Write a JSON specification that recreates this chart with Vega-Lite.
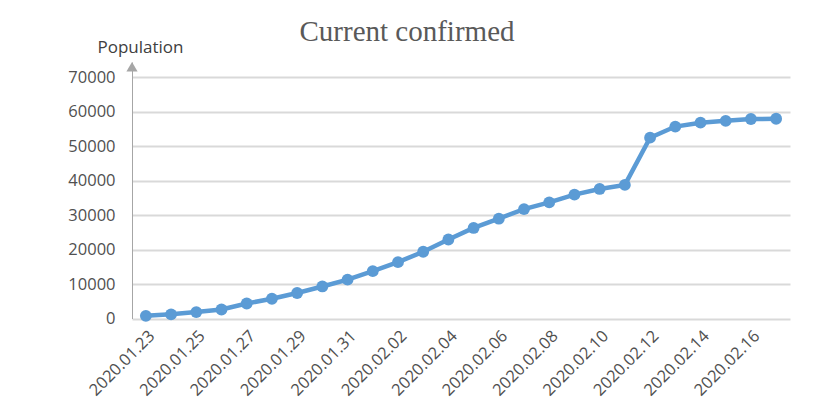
{
  "$schema": "https://vega.github.io/schema/vega-lite/v6.json",
  "autosize": {"type": "none"},
  "width": 658,
  "height": 256.5,
  "padding": {"left": 132, "top": 62, "right": 25, "bottom": 91.5},
  "background": "white",
  "title": {
    "text": "Current confirmed",
    "font": "Liberation Serif",
    "fontSize": 29,
    "fontWeight": "normal",
    "color": "#595959",
    "anchor": "middle",
    "frame": "group",
    "dx": -54,
    "baseline": "alphabetic",
    "offset": -32
  },
  "config": {
    "view": {"stroke": null},
    "axis": {"labelFont": "Open Sans", "titleFont": "Open Sans"}
  },
  "datasets": {
    "cases": [
      {"date": "2020.01.23", "value": 771},
      {"date": "2020.01.24", "value": 1208},
      {"date": "2020.01.25", "value": 1870},
      {"date": "2020.01.26", "value": 2613},
      {"date": "2020.01.27", "value": 4349},
      {"date": "2020.01.28", "value": 5739},
      {"date": "2020.01.29", "value": 7417},
      {"date": "2020.01.30", "value": 9308},
      {"date": "2020.01.31", "value": 11289},
      {"date": "2020.02.01", "value": 13748},
      {"date": "2020.02.02", "value": 16369},
      {"date": "2020.02.03", "value": 19381},
      {"date": "2020.02.04", "value": 22942},
      {"date": "2020.02.05", "value": 26302},
      {"date": "2020.02.06", "value": 28985},
      {"date": "2020.02.07", "value": 31774},
      {"date": "2020.02.08", "value": 33738},
      {"date": "2020.02.09", "value": 35982},
      {"date": "2020.02.10", "value": 37626},
      {"date": "2020.02.11", "value": 38800},
      {"date": "2020.02.12", "value": 52526},
      {"date": "2020.02.13", "value": 55748},
      {"date": "2020.02.14", "value": 56873},
      {"date": "2020.02.15", "value": 57416},
      {"date": "2020.02.16", "value": 57934},
      {"date": "2020.02.17", "value": 58016}
    ],
    "arrow": [{"date": "2020.01.23", "value": 73130}]
  },
  "encoding": {
    "x": {
      "field": "date",
      "type": "ordinal",
      "sort": null,
      "scale": {"type": "point", "padding": 0.55},
      "axis": {
        "title": null,
        "values": ["2020.01.23","2020.01.25","2020.01.27","2020.01.29","2020.01.31","2020.02.02","2020.02.04","2020.02.06","2020.02.08","2020.02.10","2020.02.12","2020.02.14","2020.02.16"],
        "labelAngle": -45,
        "labelFontSize": 16.5,
        "labelColor": "#505050",
        "labelPadding": 9,
        "labelOverlap": false,
        "ticks": false,
        "domain": false,
        "grid": false
      }
    },
    "y": {
      "field": "value",
      "type": "quantitative",
      "scale": {"domain": [0, 74500], "nice": false, "zero": true},
      "axis": {
        "title": "Population",
        "titleAngle": 0,
        "titleAlign": "left",
        "titleBaseline": "alphabetic",
        "titleX": -35,
        "titleY": -10,
        "titleFontSize": 17,
        "titleFontWeight": "normal",
        "titleColor": "#404040",
        "values": [0, 10000, 20000, 30000, 40000, 50000, 60000, 70000],
        "format": "d",
        "labelFontSize": 16.5,
        "labelColor": "#505050",
        "labelPadding": 17,
        "labelOverlap": false,
        "ticks": false,
        "grid": true,
        "gridColor": "#d9d9d9",
        "gridWidth": 2,
        "domain": true,
        "domainColor": "#a6a6a6",
        "domainWidth": 1
      }
    }
  },
  "layer": [
    {
      "data": {"name": "cases"},
      "mark": {"type": "line", "color": "#5b9bd5", "strokeWidth": 4.5, "point": {"filled": true, "size": 140, "color": "#5b9bd5", "opacity": 1}}
    },
    {
      "data": {"name": "arrow"},
      "mark": {"type": "point", "shape": "triangle-up", "filled": true, "size": 125, "color": "#a6a6a6", "opacity": 1},
      "encoding": {
        "x": {"value": 0}
      }
    }
  ]
}
